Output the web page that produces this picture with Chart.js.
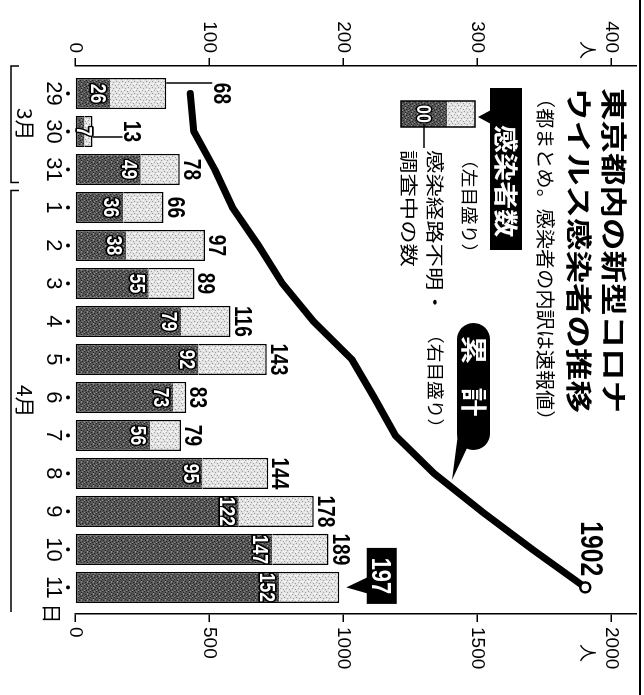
<!DOCTYPE html>
<html>
<head>
<meta charset="utf-8">
<script src="https://cdn.jsdelivr.net/npm/chart.js@4/dist/chart.umd.min.js"></script>
<style>
  html, body { margin: 0; padding: 0; background: #fff; overflow: hidden; }
  body { width: 644px; height: 695px; position: relative; }
  /* the chart is laid out upright and turned a quarter turn clockwise */
  #frame {
    position: absolute; left: 0; top: 0; width: 695px; height: 644px;
    transform-origin: 0 0; transform: translate(644px, 0) rotate(90deg);
  }
</style>
</head>
<body>
<div id="frame"><canvas id="chart" width="695" height="644"></canvas></div>
<script>
// Daily new cases in Tokyo (3/29 - 4/11), untraced share, and running total
const dates      = ['29', '30', '31', '1', '2', '3', '4', '5', '6', '7', '8', '9', '10', '11'];
const newCases   = [68, 13, 78, 66, 97, 89, 116, 143, 83, 79, 144, 178, 189, 197];
const untraced   = [26, 7, 49, 36, 38, 55, 79, 92, 73, 56, 95, 122, 147, 152];
const cumulative = [430, 443, 521, 587, 684, 773, 889, 1032, 1115, 1194, 1338, 1516, 1705, 1902];
const casesTicks = [0, 100, 200, 300, 400];
const totalTicks = [0, 500, 1000, 1500, 2000];
const monthNames = ['3月', '4月'];

const CJK = '"Noto Sans CJK JP", sans-serif';
const NUM = '"Liberation Sans", Arial, sans-serif';

const canvas = document.getElementById('chart');
const ctx2d = canvas.getContext('2d');

// halftone-like fills for the two bar segments
function tile(base, marks) {
  const c = document.createElement('canvas');
  c.width = c.height = 6;
  const g = c.getContext('2d');
  g.fillStyle = base; g.fillRect(0, 0, 6, 6);
  marks.forEach(([x, y, col]) => { g.fillStyle = col; g.fillRect(x, y, 1, 1); });
  return ctx2d.createPattern(c, 'repeat');
}
const darkFill = tile('#565656', [
  [0,0,'#222222'],[3,1,'#222222'],[1,3,'#222222'],[4,4,'#222222'],[2,5,'#222222'],
  [5,2,'#303030'],[2,1,'#959595'],[5,4,'#959595'],[0,4,'#858585'],[3,3,'#858585']
]);
const lightFill = tile('#e2e2e2', [
  [1,0,'#9a9a9a'],[4,2,'#a0a0a0'],[0,3,'#a8a8a8'],[3,5,'#9a9a9a'],
  [2,2,'#ffffff'],[5,0,'#ffffff'],[0,5,'#ffffff'],[5,4,'#ffffff']
]);

function text(ctx, s, x, y, o) {
  ctx.save();
  ctx.font = o.font;
  ctx.textAlign = o.align || 'center';
  ctx.textBaseline = o.base || 'middle';
  ctx.translate(x, y);
  ctx.scale(o.sx || 1, 1);
  if (o.stroke) {
    ctx.lineWidth = o.lw || 3;
    ctx.strokeStyle = o.stroke;
    ctx.lineJoin = 'round';
    ctx.strokeText(s, 0, 0);
  }
  ctx.fillStyle = o.color || '#000';
  ctx.fillText(s, 0, 0);
  ctx.restore();
}

function line(ctx, pts, w) {
  ctx.beginPath();
  ctx.moveTo(pts[0][0], pts[0][1]);
  for (let k = 1; k < pts.length; k++) ctx.lineTo(pts[k][0], pts[k][1]);
  ctx.lineWidth = w || 1.5;
  ctx.strokeStyle = '#000';
  ctx.stroke();
}

const annotations = {
  id: 'annotations',
  afterDatasetsDraw(chart) {
    const ctx = chart.ctx;
    const xs = chart.scales.x, ys = chart.scales.y;
    const base = ys.getPixelForValue(0);
    const numBold = (px) => `bold ${px}px ${NUM}`;

    // counts of untraced cases, inside the dark segment
    untraced.forEach((v, i) => {
      const cx = xs.getPixelForValue(i);
      let bl = ys.getPixelForValue(v) + 3 + 0.72 * 22;
      if (bl > base - 2) bl = base - 2;
      text(ctx, String(v), cx, bl, { font: numBold(22), sx: 0.8, base: 'alphabetic',
        color: '#fff', stroke: '#000', lw: 3.5 });
    });

    // daily totals at the bar ends
    newCases.forEach((v, i) => {
      const cx = xs.getPixelForValue(i);
      const top = ys.getPixelForValue(v);
      const last = i === newCases.length - 1;
      if (last) {
        const bx = cx - 39.5, by = top - 57.5;
        ctx.fillStyle = '#000';
        ctx.fillRect(bx, by, 56, 30);
        ctx.beginPath();
        ctx.moveTo(cx - 10, top - 28); ctx.lineTo(cx + 6, top - 28); ctx.lineTo(cx, top - 7);
        ctx.closePath(); ctx.fill();
        text(ctx, String(v), bx + 28, by + 15 + 0.36 * 28, { font: numBold(28), sx: 0.78,
          base: 'alphabetic', color: '#fff' });
        return;
      }
      let lift = 4;
      if (i === 0) {
        lift = 48;
        line(ctx, [[cx - 10.5, top], [cx - 10.5, top - lift + 2]], 1.5);
      } else if (i === 1) {
        lift = 32;
        line(ctx, [[cx + 5.5, top], [cx + 5.5, top - lift + 2]], 1.5);
      }
      text(ctx, String(v), cx, top - lift, { font: numBold(24), sx: 0.8, base: 'alphabetic' });
    });

    // running total at the end of the line
    const y2 = chart.scales.y2;
    const n = cumulative.length - 1;
    const px = xs.getPixelForValue(n), py = y2.getPixelForValue(cumulative[n]);
    text(ctx, String(cumulative[n]), px - 11, py + 4, { font: numBold(31), sx: 0.8,
      align: 'right', base: 'alphabetic' });
  },
  afterDraw(chart) {
    const ctx = chart.ctx;
    const xs = chart.scales.x;
    const area = chart.chartArea;

    // frame rule along the top edge
    line(ctx, [[0, 4], [695, 4]], 2);

    // dots beside each date
    ctx.fillStyle = '#000';
    dates.forEach((d, i) => {
      ctx.beginPath();
      ctx.arc(xs.getPixelForValue(i), 576, 2, 0, Math.PI * 2);
      ctx.fill();
    });
    text(ctx, '日', xs.getPixelForValue(dates.length - 1) + 26, 592, { font: `20px ${CJK}` });

    // month brackets
    const split = (xs.getPixelForValue(2) + xs.getPixelForValue(3)) / 2;
    const spans = [[area.left, split - 6], [split + 2, area.right - 2]];
    spans.forEach(([a, b], k) => {
      const pts = k === 0
        ? [[a, 625], [a, 633], [b, 633], [b, 625]]
        : [[a, 625], [a, 633], [b, 633]];
      line(ctx, pts, 1.5);
      text(ctx, monthNames[k], (a + b) / 2, 619, { font: `20px ${CJK}`, sx: 1.05 });
    });

    // unit marks
    text(ctx, '人', 50, 56, { font: `18px ${CJK}` });
    text(ctx, '人', 653, 56, { font: `18px ${CJK}` });

    // title
    text(ctx, '東京都内の新型コロナ', 88, 30, { font: `bold 26px ${CJK}`, align: 'left', sx: 1.25 });
    text(ctx, 'ウイルス感染者の推移', 88, 65.5, { font: `bold 26px ${CJK}`, align: 'left', sx: 1.25 });
    text(ctx, '（都まとめ。感染者の内訳は速報値）', 88, 99, { font: `19px ${CJK}`, align: 'left', sx: 1.06 });

    // key: daily cases
    ctx.fillStyle = '#000';
    ctx.fillRect(88, 122, 162, 32);
    ctx.beginPath();
    ctx.moveTo(110, 153); ctx.lineTo(124, 153); ctx.lineTo(117, 166);
    ctx.closePath(); ctx.fill();
    text(ctx, '感染者数', 125, 138, { font: `bold 24px ${CJK}`, align: 'left', sx: 1.17, color: '#fff' });
    text(ctx, '（左目盛り）', 150, 174.5, { font: `17px ${CJK}`, align: 'left', sx: 1.1 });

    ctx.fillStyle = lightFill; ctx.fillRect(101, 169, 26, 28);
    ctx.fillStyle = darkFill;  ctx.fillRect(101, 197, 26, 46);
    ctx.lineWidth = 1.5; ctx.strokeStyle = '#000'; ctx.strokeRect(101, 169, 26, 74);
    text(ctx, '00', 114, 220 + 0.36 * 20, { font: `bold 20px ${NUM}`, sx: 0.8, base: 'alphabetic',
      color: '#fff', stroke: '#000', lw: 3 });
    line(ctx, [[124, 220], [148, 220]], 1.5);
    text(ctx, '感染経路不明・', 150, 209, { font: `18px ${CJK}`, align: 'left', sx: 1.3 });
    text(ctx, '調査中の数', 150, 235, { font: `18px ${CJK}`, align: 'left', sx: 1.3 });

    // key: running total
    ctx.fillStyle = '#000';
    ctx.beginPath(); ctx.roundRect(323, 154, 127, 33, 16.5); ctx.fill();
    ctx.beginPath();
    ctx.moveTo(434, 186); ctx.lineTo(446, 176); ctx.lineTo(480, 192);
    ctx.closePath(); ctx.fill();
    text(ctx, '累', 350, 170.5, { font: `bold 26px ${CJK}`, sx: 1.1, color: '#fff' });
    text(ctx, '計', 402, 170.5, { font: `bold 26px ${CJK}`, sx: 1.1, color: '#fff' });
    text(ctx, '（右目盛り）', 325, 209, { font: `17px ${CJK}`, align: 'left', sx: 1.1 });
  }
};

const axisBase = {
  grid: { drawOnChartArea: false, drawTicks: true, tickLength: 8, color: '#000', lineWidth: 1.5 },
  border: { display: true, color: '#000', width: 1.5 },
};
// fixed axis widths so the plot sits in the same place regardless of label sizes
const fixedWidth = (w) => (s) => { s.width = w; s.paddingTop = 0; s.paddingBottom = 0; };

new Chart(canvas, {
  data: {
    datasets: [
      {
        type: 'line', order: 0, yAxisID: 'y2',
        data: cumulative.map((v, i) => ({ x: i, y: v })),
        borderColor: '#000', borderWidth: 7, tension: 0,
        borderCapStyle: 'round', borderJoinStyle: 'round',
        pointRadius: (c) => (c.dataIndex === cumulative.length - 1 ? 5 : 0),
        pointBackgroundColor: '#fff', pointBorderColor: '#000', pointBorderWidth: 2.5,
      },
      {
        type: 'bar', order: 1, yAxisID: 'y', stack: 'day',
        data: untraced.map((v, i) => ({ x: i, y: v })),
        backgroundColor: darkFill, borderColor: '#000',
        borderWidth: { left: 1.5, right: 1.5, bottom: 1.5, top: 0 }, borderSkipped: false,
        barPercentage: 0.82, categoryPercentage: 1,
      },
      {
        type: 'bar', order: 2, yAxisID: 'y', stack: 'day',
        data: newCases.map((v, i) => ({ x: i, y: v - untraced[i] })),
        backgroundColor: lightFill, borderColor: '#000',
        borderWidth: { left: 1.5, right: 1.5, top: 1.5, bottom: 0 }, borderSkipped: false,
        barPercentage: 0.82, categoryPercentage: 1,
      },
    ],
  },
  options: {
    responsive: false, animation: false, devicePixelRatio: 1,
    layout: { padding: { top: 7, left: 0, right: 0, bottom: 0 } },
    plugins: { legend: { display: false }, tooltip: { enabled: false } },
    scales: {
      x: {
        type: 'linear', min: -0.724, max: 13.7, stacked: true, offset: false,
        grid: { display: false, drawTicks: false, offset: false },
        border: { display: false },
        afterBuildTicks: (s) => { s.ticks = dates.map((d, i) => ({ value: i })); },
        afterFit: (s) => { s.height = 75; s.paddingLeft = 0; s.paddingRight = 0; },
        ticks: {
          callback: (v) => dates[v], autoSkip: false, maxRotation: 0, minRotation: 0,
          padding: 9, color: '#000', font: { family: NUM, size: 22 },
        },
      },
      y: {
        ...axisBase, position: 'left', min: 0, max: 418.6, stacked: true,
        afterBuildTicks: (s) => { s.ticks = casesTicks.map((v) => ({ value: v })); },
        afterFit: fixedWidth(66),
        ticks: { padding: 5, color: '#000', font: { family: NUM, size: 19 }, callback: (v) => String(v) },
      },
      y2: {
        ...axisBase, position: 'right', min: 0, max: 2093,
        afterBuildTicks: (s) => { s.ticks = totalTicks.map((v) => ({ value: v })); },
        afterFit: fixedWidth(81),
        ticks: { padding: 5, color: '#000', font: { family: NUM, size: 19 }, callback: (v) => String(v) },
      },
    },
  },
  plugins: [annotations],
});
</script>
</body>
</html>
